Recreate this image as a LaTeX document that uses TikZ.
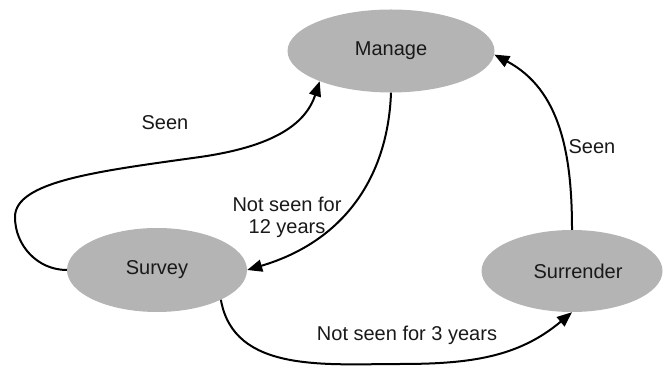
\documentclass[tikz,border=0pt]{standalone}
\usepackage{fontspec}
\setmainfont{Liberation Sans}
\usetikzlibrary{shapes.geometric,arrows.meta}
\definecolor{ellgray}{RGB}{180,180,180}
\definecolor{txt}{RGB}{25,25,25}
\begin{document}
\begin{tikzpicture}[x=1pt,y=1pt,
  state/.style={ellipse, fill=ellgray, inner sep=0pt, text=txt,
    font=\fontsize{20}{24}\selectfont},
  conn/.style={line width=2pt, draw=black, -{Triangle[length=15pt,width=12pt]}},
  lbl/.style={font=\fontsize{20}{22}\selectfont, align=center, inner sep=0pt, text=txt}]
\useasboundingbox (0,0) rectangle (668,366);
\node[state, minimum width=207pt, minimum height=83pt] (m) at (391,315) {Manage};
\node[state, minimum width=180pt, minimum height=84pt] (sv) at (157,96) {Survey};
\node[state, minimum width=181pt, minimum height=82pt] (s) at (572,95) {\hspace*{12pt}Surrender};
\coordinate (c1) at (15,149);
\coordinate (c2) at (200,209);
\coordinate (b3) at (400,2);
\draw[conn] (sv.west) .. controls (38,96) and (15,120) .. (c1)
   .. controls (15,185) and (100,195) .. (c2)
   .. controls (270,219) and (305,240) .. (m.203);
\draw[conn] (m.south) .. controls (388,190) and (345,125) .. (sv.east);
\draw[conn] (sv.-25) to[out=-80,in=180] (b3) to[out=0,in=-140] (s.south);
\draw[conn] (s.north) to[out=90,in=-28] (m.-2);
\node[lbl] (l1) at (165,243) {Seen};
\node[lbl] (l2) at (287,149) {Not seen for\\12 years};
\node[lbl] (l3) at (407,31) {Not seen for 3 years};
\node[lbl] (l4) at (592,219) {Seen};
\end{tikzpicture}
\end{document}
